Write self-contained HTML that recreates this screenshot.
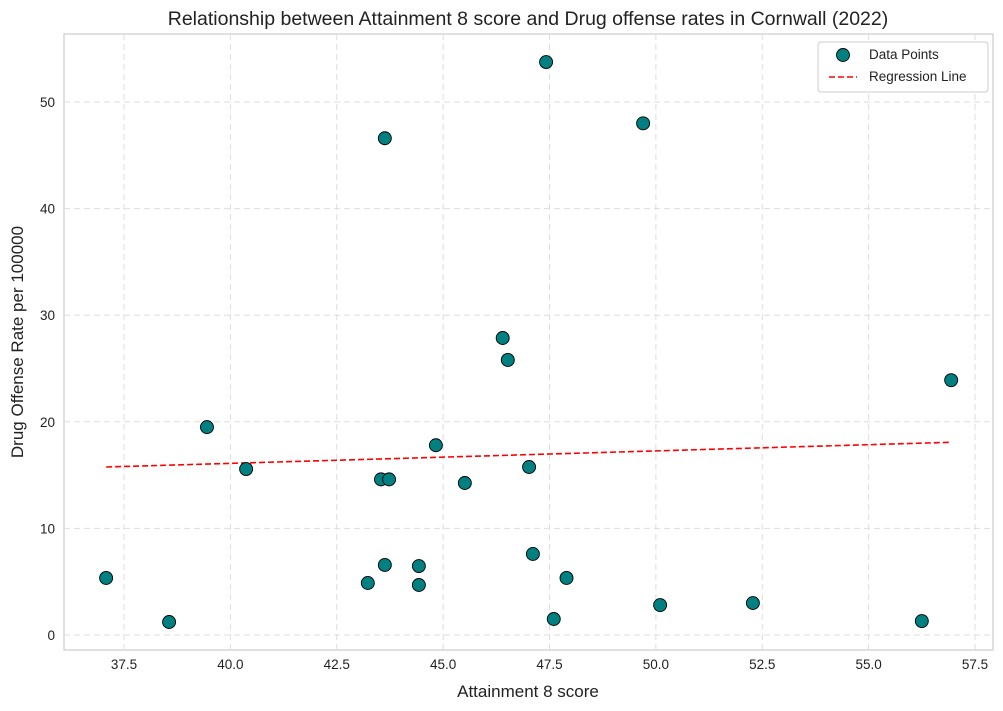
<!DOCTYPE html>
<html><head><meta charset="utf-8">
<style>
body{margin:0;background:#fff;font-family:"Liberation Sans",Arial,sans-serif;}
svg{display:block}
</style></head><body>
<svg id="chart" width="1003" height="711"></svg>
<script>
const xValues=[37.08,38.56,39.45,40.37,43.23,43.54,43.73,43.63,43.63,44.43,44.43,44.83,45.51,46.4,46.52,47.02,47.11,47.42,47.6,47.9,49.7,50.1,52.28,56.25,56.94];
const yValues=[5.35,1.22,19.5,15.57,4.88,14.6,14.6,46.6,6.57,6.47,4.69,17.8,14.26,27.86,25.8,15.76,7.6,53.75,1.5,5.35,48.0,2.81,3.0,1.31,23.9];
const regX=[37.08,56.94];
const regY=[15.76,18.08];
const xTicks=[37.5,40.0,42.5,45.0,47.5,50.0,52.5,55.0,57.5];
const yTicks=[0,10,20,30,40,50];
const NS="http://www.w3.org/2000/svg";
const svg=document.getElementById('chart');
const L=64,R=993,T=34,B=650;
function sx(v){return 124+(v-37.5)*42.55;}
function sy(v){return 635-v*10.66;}
function mk(tag,attrs,parent){const e=document.createElementNS(NS,tag);for(const k in attrs)e.setAttribute(k,attrs[k]);(parent||svg).appendChild(e);return e;}
let bg=mk('rect',{x:L,y:T,width:R-L,height:B-T,fill:'#fff',stroke:'#ccc','stroke-width':1.2});


xTicks.forEach(t=>{
 let g=mk('line',{x1:sx(t),x2:sx(t),y1:T,y2:B,stroke:'#ddd','stroke-dasharray':'6,4'});
 
 
 let tx=mk('text',{x:sx(t),y:B+19,'text-anchor':'middle','font-size':13.5,fill:'#222'});
 tx.textContent=t.toFixed(1);
 
 
});
yTicks.forEach(t=>{
 let g=mk('line',{x1:L,x2:R,y1:sy(t),y2:sy(t),stroke:'#ddd','stroke-dasharray':'6,4'});
 
 
 let tx=mk('text',{x:L-9,y:sy(t)+5,'text-anchor':'end','font-size':13.5,fill:'#222'});
 tx.textContent=t;
 
 
});
let rl=mk('line',{x1:sx(regX[0]),y1:sy(regY[0]),x2:sx(regX[1]),y2:sy(regY[1]),stroke:'#f00','stroke-width':1.6,'stroke-dasharray':'6,3'});


for(let i=0;i<xValues.length;i++){
 let c=mk('circle',{cx:sx(xValues[i]),cy:sy(yValues[i]),r:6.5,fill:'#008080',stroke:'#000','stroke-width':0.9});
 
 
}
let title=mk('text',{x:528,y:25,'text-anchor':'middle','font-size':19.5,fill:'#222'});
title.textContent='Relationship between Attainment 8 score and Drug offense rates in Cornwall (2022)';


let xt=mk('text',{x:528,y:697,'text-anchor':'middle','font-size':17,fill:'#222'});
xt.textContent='Attainment 8 score';


let yt=mk('text',{x:23,y:342,'text-anchor':'middle','font-size':17,fill:'#222',transform:'rotate(-90 23 342)'});
yt.textContent='Drug Offense Rate per 100000';


let lg=mk('g',{});


mk('rect',{x:818,y:42,width:170,height:50,rx:3,fill:'#fff',stroke:'#ccc'},lg);
let lc=mk('circle',{cx:843,cy:55,r:6.5,fill:'#008080',stroke:'#000','stroke-width':0.9},lg);


let l1=mk('text',{x:869,y:59,'font-size':13.5,fill:'#222'},lg);l1.textContent='Data Points';


let ll=mk('line',{x1:829,x2:857,y1:77,y2:77,stroke:'#f00','stroke-width':1.6,'stroke-dasharray':'6,3'},lg);


let l2=mk('text',{x:869,y:81,'font-size':13.5,fill:'#222'},lg);l2.textContent='Regression Line';


</script>
</body></html>
